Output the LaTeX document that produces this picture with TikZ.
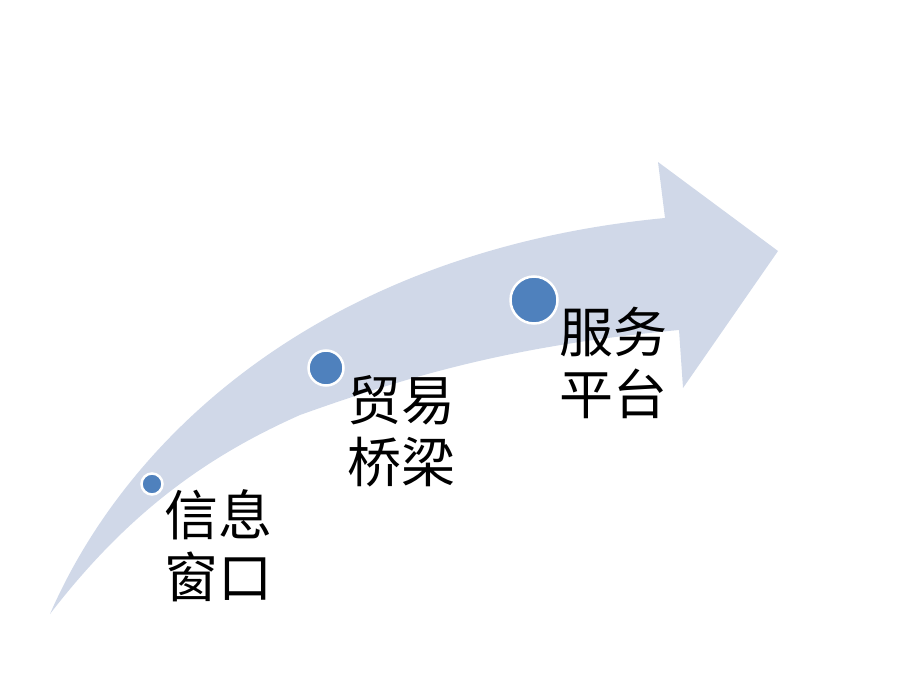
\documentclass[tikz,border=0pt]{standalone}
\usepackage{fontspec}
\newfontfamily\cjk{Noto Sans CJK SC}
\definecolor{bandfill}{HTML}{D0D8E8}
\definecolor{dotfill}{HTML}{4F81BD}
\tikzstyle{dot} = [circle, fill=dotfill, draw=white, line width=2.5pt, inner sep=0pt]
\tikzstyle{label} = [inner sep=0pt, align=left, font=\cjk\fontsize{54}{62}\selectfont]

\begin{document}
\begin{tikzpicture}[x=1pt, y=-1pt]
      \useasboundingbox (0,0) rectangle (920,690);
      % curved band with arrow head
      \fill[bandfill] (50,614) .. controls (130,430) and (330,250) .. (665,218)
        -- (658,162) -- (778,251) -- (683,388) -- (679,330)
        .. controls (520,345) and (420,372) .. (300,415)
        .. controls (210,455) and (130,510) .. (50,614) -- cycle;
      % steps
      \node[dot, minimum size=21pt] (d1) at (152,484) {};
      \node[dot, minimum size=35pt] (d2) at (326,368) {};
      \node[dot, minimum size=47pt] (d3) at (534,300) {};
      \node[label] (t1) at (218,546) {信息\\窗口};
      \node[label] (t2) at (401,431) {贸易\\桥梁};
      \node[label] (t3) at (613,363) {服务\\平台};
    \end{tikzpicture}
\end{document}
